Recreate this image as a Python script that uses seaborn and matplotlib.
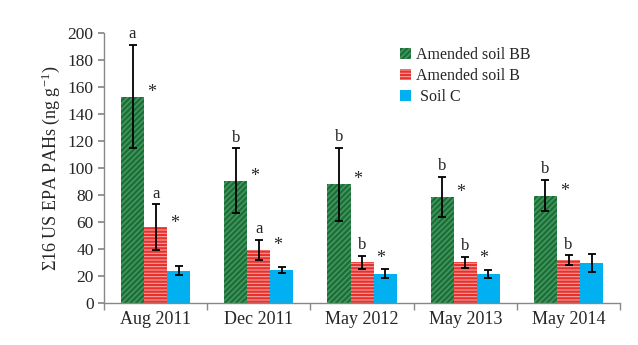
import matplotlib
matplotlib.use("Agg")
import matplotlib.pyplot as plt
import seaborn as sns
import pandas as pd
import numpy as np

# Sampling dates and soil treatments
dates = ["Aug 2011", "Dec 2011", "May 2012", "May 2013", "May 2014"]
soils = ["Amended soil BB", "Amended soil B", "Soil C"]
legend_labels = ["Amended soil BB", "Amended soil B", " Soil C"]

# Mean sum of 16 US EPA PAHs (ng g-1) and standard deviations
bb_mean = [153, 90.5, 88, 78.5, 79.5]
bb_sd = [38, 24, 27, 15, 11.5]
b_mean = [56, 39, 30, 30, 31.5]
b_sd = [17, 7.5, 5, 4, 3.7]
c_mean = [24, 24.5, 21.5, 21.3, 29.5]
c_sd = [3, 2, 3.3, 3, 6.5]

# Significance letters and asterisks (None = no label)
bb_letters = ["a", "b", "b", "b", "b"]
b_letters = ["a", "a", "b", "b", "b"]
bb_star = [True, True, True, True, True]
b_star = [True, True, True, True, False]

sns.set_theme(style="white")
plt.rcParams["font.family"] = ["Liberation Serif", "DejaVu Serif"]
plt.rcParams["mathtext.fontset"] = "stix"
plt.rcParams["hatch.linewidth"] = 1.6

df = pd.DataFrame({
    "date": [d for d in dates for _ in soils],
    "soil": soils * len(dates),
    "value": [v for trio in zip(bb_mean, b_mean, c_mean) for v in trio],
})

colors = {"Amended soil BB": "#3d9a5a", "Amended soil B": "#f4a3a1", "Soil C": "#00b0f0"}
hatch_cols = {"Amended soil BB": "#1f6b39", "Amended soil B": "#e8302c", "Soil C": "#00b0f0"}
hatches = {"Amended soil BB": "//////", "Amended soil B": "-----", "Soil C": ""}

fig = plt.figure(figsize=(6.38, 3.45), dpi=100)
ax = fig.add_axes([0.163, 0.122, 0.809, 0.782])

sns.barplot(data=df, x="date", y="value", hue="soil", order=dates, hue_order=soils,
            palette=colors, width=0.67, gap=0, errorbar=None, ax=ax, saturation=1)

means = [bb_mean, b_mean, c_mean]
sds = [bb_sd, b_sd, c_sd]
letters = [bb_letters, b_letters, [None] * 5]
stars = [bb_star, b_star, [False] * 5]

for k, (soil, cont) in enumerate(zip(soils, ax.containers)):
    xs = []
    for bar in cont:
        bar.set_hatch(hatches[soil])
        bar.set_edgecolor(hatch_cols[soil])
        bar.set_linewidth(0)
        xs.append(bar.get_x() + bar.get_width() / 2)
    w = cont[0].get_width()
    ax.errorbar(xs, means[k], yerr=sds[k], fmt="none", ecolor="black",
                elinewidth=1.3, capsize=3, capthick=1.3, zorder=5)
    for i, x in enumerate(xs):
        top = means[k][i] + sds[k][i]
        if letters[k][i]:
            ax.annotate(letters[k][i], (x, top), xytext=(0, 2), textcoords="offset points",
                        ha="center", va="bottom", fontsize=12)
        if stars[k][i]:
            ax.annotate("*", (x + w / 2, means[k][i]), xytext=(2, -3),
                        textcoords="offset points", ha="left", va="bottom", fontsize=13)

ax.set_ylim(0, 200)
ax.set_yticks(range(0, 201, 20))
ax.set_xlim(-0.5, 4.5)
ax.set_xlabel("")
ax.set_ylabel(r"Σ16 US EPA PAHs (ng g$^{\mathregular{-1}}$)", fontsize=13)
ax.tick_params(axis="y", labelsize=12.5, length=4, color="#888888", direction="out", left=True)
ax.tick_params(axis="x", labelsize=13, length=0, pad=6)
ax.set_xticks(np.arange(-0.5, 5, 1), minor=True)
ax.tick_params(axis="x", which="minor", length=5, color="#888888", bottom=True)
for s in ["top", "right"]:
    ax.spines[s].set_visible(False)
for s in ["left", "bottom"]:
    ax.spines[s].set_color("#888888")
    ax.spines[s].set_linewidth(1)

leg = ax.legend(loc="upper left", bbox_to_anchor=(0.545, 1.0), frameon=False, fontsize=11.5,
                handlelength=0.7, handleheight=0.7, handletextpad=0.3, labelspacing=0.3)
for h, txt, soil, lab in zip(leg.legend_handles, leg.get_texts(), soils, legend_labels):
    h.set_hatch(hatches[soil])
    h.set_edgecolor(hatch_cols[soil])
    h.set_linewidth(0)
    txt.set_text(lab)

fig.savefig("out.png", dpi=100)
